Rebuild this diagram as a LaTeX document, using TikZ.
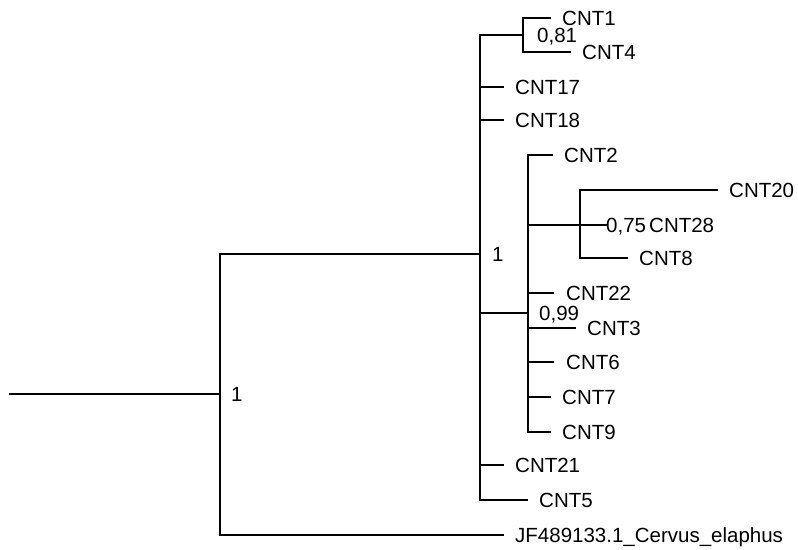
\documentclass[tikz,border=0pt]{standalone}
\usepackage{fontspec}
\setmainfont{Liberation Sans}
\begin{document}
\begin{tikzpicture}[x=1pt,y=-1pt,
  br/.style={line width=2.8pt,line cap=rect,black},
  leaftext/.style={anchor=base west,inner sep=0pt,font=\fontsize{20.5}{24}\selectfont},
  support/.style={anchor=base west,inner sep=0pt,font=\fontsize{20.5}{24}\selectfont}]
\useasboundingbox (0,0) rectangle (798,549);
% internal nodes
\coordinate (r0) at (10,394);
\coordinate (n1) at (220,394);
\coordinate (n2) at (480,254);
\coordinate (n3) at (523,35);
\coordinate (n4) at (528,313);
\coordinate (n5) at (580,225);
% leaf ends
\coordinate (l1) at (550,18);
\coordinate (l4) at (570,52);
\coordinate (l17) at (503,87);
\coordinate (l18) at (503,120);
\coordinate (l2) at (552,155);
\coordinate (l20) at (717,190);
\coordinate (l28) at (606,225);
\coordinate (l8) at (627,258);
\coordinate (l22) at (553,293);
\coordinate (l3) at (575,328);
\coordinate (l6) at (553,362);
\coordinate (l7) at (550,397);
\coordinate (l9) at (550,432);
\coordinate (l21) at (503,465);
\coordinate (l5) at (527,500);
\coordinate (lJ) at (503,535);
% root
\draw[br] (r0) -- (n1);
\draw[br] (n1 |- n2) -- (n1 |- lJ);
\draw[br] (n1 |- n2) -- (n2);
\draw[br] (n1 |- lJ) -- (lJ);
% n2 clade
\draw[br] (n2 |- n3) -- (n2 |- l5);
\draw[br] (n2 |- n3) -- (n3);
\draw[br] (n2 |- l17) -- (l17);
\draw[br] (n2 |- l18) -- (l18);
\draw[br] (n2 |- n4) -- (n4);
\draw[br] (n2 |- l21) -- (l21);
\draw[br] (n2 |- l5) -- (l5);
% n3 clade
\draw[br] (n3 |- l1) -- (n3 |- l4);
\draw[br] (n3 |- l1) -- (l1);
\draw[br] (n3 |- l4) -- (l4);
% n4 clade
\draw[br] (n4 |- l2) -- (n4 |- l9);
\draw[br] (n4 |- l2) -- (l2);
\draw[br] (n4 |- n5) -- (n5);
\draw[br] (n4 |- l22) -- (l22);
\draw[br] (n4 |- l3) -- (l3);
\draw[br] (n4 |- l6) -- (l6);
\draw[br] (n4 |- l7) -- (l7);
\draw[br] (n4 |- l9) -- (l9);
% n5 clade
\draw[br] (n5 |- l20) -- (n5 |- l8);
\draw[br] (n5 |- l20) -- (l20);
\draw[br] (n5 |- l28) -- (l28);
\draw[br] (n5 |- l8) -- (l8);
% leaf labels
\node[leaftext] (t1) at ([xshift=12pt,yshift=-7pt]l1) {CNT1};
\node[leaftext] (t4) at ([xshift=12pt,yshift=-7pt]l4) {CNT4};
\node[leaftext] (t17) at ([xshift=12pt,yshift=-7pt]l17) {CNT17};
\node[leaftext] (t18) at ([xshift=12pt,yshift=-7pt]l18) {CNT18};
\node[leaftext] (t2) at ([xshift=12pt,yshift=-7pt]l2) {CNT2};
\node[leaftext] (t20) at ([xshift=12pt,yshift=-7pt]l20) {CNT20};
\node[leaftext] (t28) at ([xshift=43pt,yshift=-7pt]l28) {CNT28};
\node[leaftext] (t8) at ([xshift=12pt,yshift=-7pt]l8) {CNT8};
\node[leaftext] (t22) at ([xshift=13pt,yshift=-7pt]l22) {CNT22};
\node[leaftext] (t3) at ([xshift=12pt,yshift=-7pt]l3) {CNT3};
\node[leaftext] (t6) at ([xshift=13pt,yshift=-7pt]l6) {CNT6};
\node[leaftext] (t7) at ([xshift=12pt,yshift=-7pt]l7) {CNT7};
\node[leaftext] (t9) at ([xshift=12pt,yshift=-7pt]l9) {CNT9};
\node[leaftext] (t21) at ([xshift=12pt,yshift=-7pt]l21) {CNT21};
\node[leaftext] (t5) at ([xshift=12pt,yshift=-7pt]l5) {CNT5};
\node[leaftext] (tJ) at ([xshift=12pt,yshift=-7pt]lJ) {JF489133.1\_Cervus\_elaphus};
% support values
\node[support] (s1) at ([xshift=11pt,yshift=-7pt]n1) {1};
\node[support] (s2) at ([xshift=12pt,yshift=-7pt]n2) {1};
\node[support] (s3) at ([xshift=14pt,yshift=-7pt]n3) {0,81};
\node[support] (s4) at ([xshift=11pt,yshift=-7pt]n4) {0,99};
\node[support] (s5) at ([xshift=0pt,yshift=-7pt]l28) {0,75};
\end{tikzpicture}
\end{document}
